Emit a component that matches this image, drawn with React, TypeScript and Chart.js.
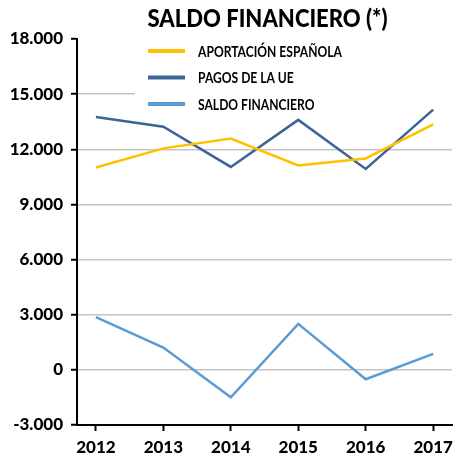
import React, { useEffect, useRef } from "react";
import { Chart, registerables } from "chart.js";

Chart.register(...registerables);

const years = [2012, 2013, 2014, 2015, 2016, 2017];
const aportacion = [11010, 12050, 12580, 11120, 11500, 13350];
const pagosUE = [13760, 13230, 11040, 13600, 10930, 14160];
const saldo = [2870, 1210, -1490, 2500, -510, 870];
const yMin = -3000;
const yMax = 18000;
const yStep = 3000;
const seriesNames = ["APORTACIÓN ESPAÑOLA", "PAGOS DE LA UE", "SALDO FINANCIERO"];
const seriesColors = ["#FFC000", "#3D6496", "#5B9BD5"];
const titleText = "SALDO FINANCIERO (*)";

const fmt = (v: number) => {
  const s = Math.abs(Math.round(v)).toString();
  const withDots = s.replace(/\B(?=(\d{3})+(?!\d))/g, ".");
  return (v < 0 ? "-" : "") + withDots;
};

const overlayPlugin = {
  id: "overlay",
  beforeDatasetsDraw(chart: any) {
    const { ctx, chartArea } = chart;
    ctx.save();
    ctx.fillStyle = "#ffffff";
    ctx.fillRect(135, chartArea.top - 6, chartArea.right - 135 + 2, 120 - chartArea.top + 6);
    ctx.font = "bold 15px Lato";
    const sx = 144 / ctx.measureText(seriesNames[0]).width;
    seriesNames.forEach((name, i) => {
      const y = 51 + i * 26.5;
      ctx.strokeStyle = seriesColors[i];
      ctx.lineWidth = 4;
      ctx.beginPath();
      ctx.moveTo(148, y);
      ctx.lineTo(185, y);
      ctx.stroke();
      ctx.fillStyle = "#000";
      ctx.font = "bold 15px Lato";
      ctx.textBaseline = "middle";
      ctx.textAlign = "left";
      ctx.save();
      ctx.translate(198, y + 1);
      ctx.scale(sx, 1);
      ctx.fillText(name, 0, 0);
      ctx.restore();
    });
    ctx.restore();
  },
  afterDraw(chart: any) {
    const { ctx, chartArea } = chart;
    ctx.save();
    ctx.fillStyle = "#000";
    ctx.font = "900 24px Lato";
    ctx.textAlign = "center";
    ctx.textBaseline = "middle";
    const cx = (chartArea.left + chartArea.right) / 2 + 3;
    ctx.fillText(titleText, cx, 19, 240);
    ctx.restore();
  },
};

export default function App() {
  const ref = useRef<HTMLCanvasElement | null>(null);
  useEffect(() => {
    document.body.style.margin = "0";
    const canvas = ref.current;
    if (!canvas) return;
    const mk = (vals: number[]) => years.map((x, i) => ({ x, y: vals[i] }));
    const datasets = [aportacion, pagosUE, saldo].map((vals, i) => ({
      label: seriesNames[i],
      data: mk(vals),
      borderColor: seriesColors[i],
      backgroundColor: seriesColors[i],
      borderWidth: 2.5,
      pointRadius: 0,
      tension: 0,
      fill: false,
    }));
    const chart = new Chart(canvas, {
      type: "line",
      data: { datasets },
      plugins: [overlayPlugin],
      options: {
        animation: false,
        responsive: false,
        devicePixelRatio: 1,
        layout: { padding: { top: 39, right: 2, left: 0, bottom: 0 } },
        plugins: {
          legend: { display: false },
          title: { display: false },
          tooltip: { enabled: false },
        },
        scales: {
          x: {
            type: "linear",
            min: 2011.72,
            max: 2017.28,
            afterFit: (s: any) => {
              s.height = 37;
            },
            afterBuildTicks: (s: any) => {
              s.ticks = years.map((v) => ({ value: v }));
            },
            ticks: {
              callback: (v: any) => String(v),
              color: "#000",
              font: { family: "Lato", weight: "900", size: 17 },
              padding: 6,
              maxRotation: 0,
              autoSkip: false,
            },
            grid: {
              drawOnChartArea: false,
              drawTicks: true,
              tickLength: 6,
              tickColor: "#000",
              tickWidth: 2,
            },
            border: { display: true, color: "#000", width: 2 },
          },
          y: {
            min: yMin,
            max: yMax,
            afterFit: (s: any) => {
              s.width = 77;
            },
            ticks: {
              stepSize: yStep,
              callback: (v: any) => fmt(Number(v)),
              color: "#000",
              font: { family: "Lato", weight: "900", size: 17 },
              padding: 8,
            },
            grid: {
              color: (c: any) =>
                c.tick && (c.tick.value === yMax || c.tick.value === yMin) ? "rgba(0,0,0,0)" : "#C4C4C4",
              lineWidth: 1.5,
              drawTicks: true,
              tickLength: 6,
              tickColor: "#000",
              tickWidth: 2,
            },
            border: { display: true, color: "#000", width: 2 },
          },
        },
      },
    });
    return () => chart.destroy();
  }, []);
  return (
    <div style={{ width: 459, height: 462 }}>
      <canvas ref={ref} width={459} height={462} style={{ display: "block" }} />
    </div>
  );
}
